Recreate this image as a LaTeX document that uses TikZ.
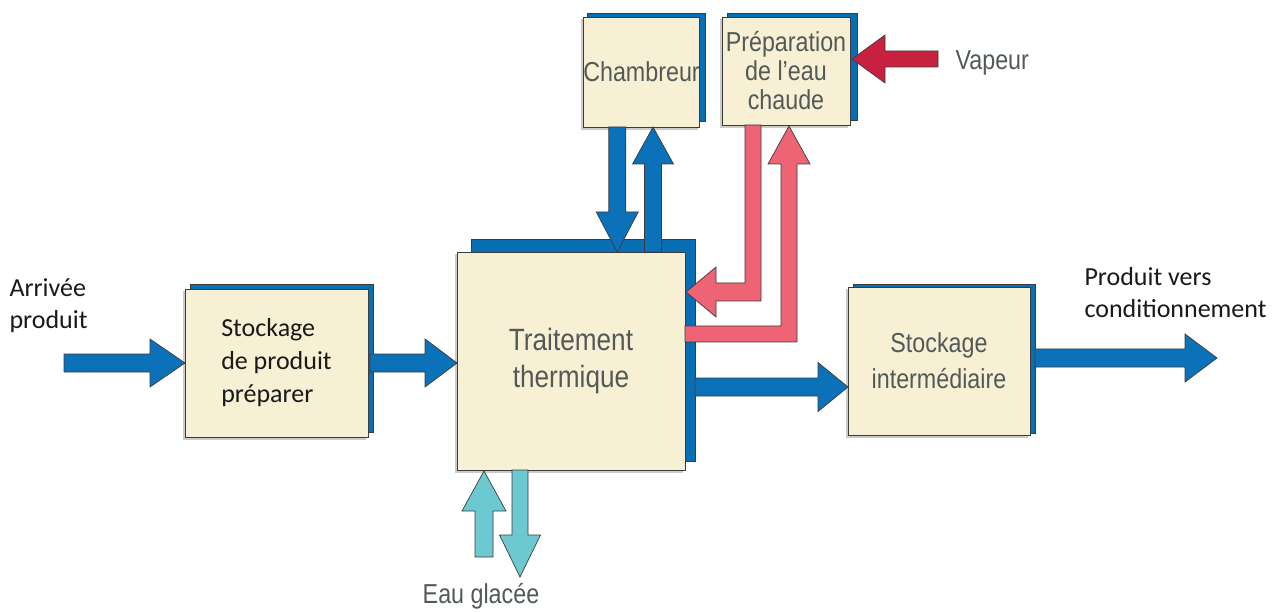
\documentclass[tikz,border=0pt]{standalone}
\usepackage{fontspec}
\setmainfont{Carlito}
\newfontfamily\labelfont{Liberation Sans}[FakeStretch=0.85]
\usetikzlibrary{calc}

\definecolor{boxfill}{HTML}{F8F0D4}
\definecolor{edge}{HTML}{3C3C3C}
\definecolor{backblue}{HTML}{0A6EB4}
\definecolor{flowblue}{HTML}{0B72BA}
\definecolor{hotred}{HTML}{EF6475}
\definecolor{steamred}{HTML}{C8213F}
\definecolor{coldcyan}{HTML}{6DC9D1}
\definecolor{labelgrey}{HTML}{525A58}
\definecolor{softshade}{HTML}{A8A8A8}

\pgfdeclarelayer{bg}
\pgfsetlayers{bg,main}

% straight broad arrow: style, from, to, shaft half-width, head half-width, head length
\newcommand\fatarrow[6]{%
  \path ($(#3)!#6!(#2)$) coordinate (fahead);
  \draw[#1] ($(#2)!#4!90:(#3)$) -- ($(fahead)!#4!90:(#3)$)
    -- ($(fahead)!#5!90:(#3)$) -- (#3) -- ($(fahead)!#5!-90:(#3)$)
    -- ($(fahead)!#4!-90:(#3)$) -- ($(#2)!#4!-90:(#3)$) -- cycle;}

\tikzset{
  box/.style 2 args={draw=edge, line width=0.9pt, fill=boxfill, inner sep=0pt,
    outer sep=0pt, minimum width=#1, minimum height=#2},
  backing/.style={draw=edge, line width=0.7pt, fill=backblue},
  softback/.style={fill=softshade, opacity=0.6},
  calibri/.style={font=\fontsize{26}{33}\selectfont, text=black!90},
  grey/.style={font=\labelfont\fontsize{27.4}{36}\selectfont, text=labelgrey, align=center},
  bigrey/.style={font=\labelfont\fontsize{30.8}{37}\selectfont, text=labelgrey, align=center},
  fat/.style={draw=edge, line width=0.7pt, line join=miter},
  blueflow/.style={fat, fill=flowblue},
  redflow/.style={fat, fill=hotred},
  steamflow/.style={fat, fill=steamred},
  coldflow/.style={fat, fill=coldcyan},
}

\begin{document}
\begin{tikzpicture}[x=1pt,y=-1pt]
\useasboundingbox (0,0) rectangle (1288,612);

% process blocks
\node[box={183}{148}, calibri, align=left] (stock) at (276.5,363) {Stockage\\de produit\\préparer};
\node[box={228}{218}, bigrey] (trt) at (571,361) {Traitement\\thermique};
\node[box={115}{110}, grey] (chamb) at (641.5,72) {Chambreur};
\node[box={128}{108}, grey, font=\labelfont\fontsize{27.4}{29}\selectfont] (prep) at (786,71) {Préparation\\de l’eau\\chaude};
\node[box={182}{148}, grey] (inter) at (939,361) {Stockage\\intermédiaire};

% blue backing plates and soft shading behind the blocks
\begin{pgfonlayer}{bg}
  \fill[softback] ($(stock.north west)+(-2,2)$) rectangle ($(stock.south east)+(-2,3)$);
  \fill[softback] ($(trt.north west)+(-2,2)$) rectangle ($(trt.south east)+(-2,3)$);
  \fill[softback] ($(chamb.north west)+(-2,2)$) rectangle ($(chamb.south east)+(-2,3)$);
  \fill[softback] ($(prep.north west)+(-2,2)$) rectangle ($(prep.south east)+(-2,3)$);
  \fill[softback] ($(inter.north west)+(-2,2)$) rectangle ($(inter.south east)+(-2,3)$);
  \draw[backing] ($(stock.north west)+(5,-5)$) rectangle ($(stock.south east)+(5,-5)$);
  \draw[backing] ($(trt.north west)+(14,-13)$) rectangle ($(trt.south east)+(10,-9)$);
  \draw[backing] ($(chamb.north west)+(4,-4)$) rectangle ($(chamb.south east)+(6,-6)$);
  \draw[backing] ($(prep.north west)+(5,-4)$) rectangle ($(prep.south east)+(7,-5)$);
  \draw[backing] ($(inter.north west)+(5,-3)$) rectangle ($(inter.south east)+(5,-2)$);
\end{pgfonlayer}

% free labels
\node[calibri, align=left, anchor=west, font=\fontsize{26}{32}\selectfont] (inlbl) at (6,306) {Arrivée\\produit};
\node[calibri, align=left, anchor=west, font=\fontsize{26}{32}\selectfont] (outlbl) at (1081,293) {Produit vers\\conditionnement};
\node[grey, anchor=west] (vaplbl) at (952,63) {Vapeur};
\node[grey] (icelbl) at (481,596) {Eau glacée};

% end points of the flows
\coordinate (a1s) at (64,363);
\coordinate (a2s) at ($(stock.east)+(2,0)$);
\coordinate (a2t) at (trt.west |- a2s);
\coordinate (a3s) at ($(trt.east)+(10,26)$);
\coordinate (a3t) at (inter.west |- a3s);
\coordinate (a4s) at ($(inter.east)+(5,-3)$);
\coordinate (a4t) at (1217,358);
\coordinate (vs) at (938,59);
\coordinate (vt) at ($(prep.east)+(2,-12)$);
\coordinate (bd1) at ($(chamb.south west)+(34,0)$);
\coordinate (bd2) at (bd1 |- trt.north);
\coordinate (bu1) at ($(trt.north)+(82,0)$);
\coordinate (bu2) at (bu1 |- chamb.south);
\coordinate (cu2) at ($(trt.south west)+(27,1)$);
\coordinate (cu1) at ($(cu2)+(0,86)$);
\coordinate (cd1) at ($(trt.south west)+(63,0)$);
\coordinate (cd2) at ($(cd1)+(0,107)$);

% product line
\fatarrow{blueflow}{a1s}{stock.west}{9pt}{24pt}{35pt}
\fatarrow{blueflow}{a2s}{a2t}{9pt}{24pt}{32pt}
\fatarrow{blueflow}{a3s}{a3t}{9pt}{24.5pt}{30pt}
\fatarrow{blueflow}{a4s}{a4t}{9pt}{24pt}{32pt}

% chambreur loop
\fatarrow{blueflow}{bd1}{bd2}{8.5pt}{21pt}{40pt}
\fatarrow{blueflow}{bu1}{bu2}{8.5pt}{20.5pt}{37pt}

% steam feed
\fatarrow{steamflow}{vs}{vt}{8pt}{24pt}{33pt}

% chilled water
\fatarrow{coldflow}{cu1}{cu2}{9pt}{22pt}{40pt}
\fatarrow{coldflow}{cd1}{cd2}{8pt}{20.5pt}{42pt}

% hot water supply to the treatment
\coordinate (r1top) at ($(prep.south west)+(31,0)$);
\coordinate (r1tip) at ($(trt.east)+(1,-69)$);
\coordinate (r1c) at (r1top |- r1tip);
\draw[redflow] ($(r1top)+(-8,0)$) -- ($(r1top)+(8,0)$) -- ($(r1c)+(8,9)$)
  -- ($(r1tip)+(30,9)$) -- ($(r1tip)+(30,25)$) -- (r1tip)
  -- ($(r1tip)+(30,-25)$) -- ($(r1tip)+(30,-9)$) -- ($(r1c)+(-8,-9)$) -- cycle;

% hot water return to the heater
\coordinate (r2s) at ($(trt.east)+(0,-27)$);
\coordinate (r2t) at ($(prep.south west)+(67,1)$);
\coordinate (r2c) at (r2t |- r2s);
\draw[redflow] ($(r2s)+(0,-8)$) -- ($(r2c)+(-8,-8)$) -- ($(r2t)+(-8,38)$)
  -- ($(r2t)+(-21,38)$) -- (r2t) -- ($(r2t)+(21,38)$) -- ($(r2t)+(8,38)$)
  -- ($(r2c)+(8,8)$) -- ($(r2s)+(0,8)$) -- cycle;
\end{tikzpicture}
\end{document}
